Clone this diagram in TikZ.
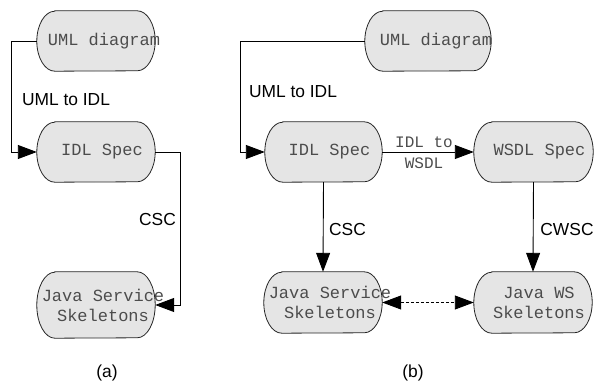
\documentclass[tikz,border=0pt]{standalone}
\usepackage{fontspec}
\setmainfont{Liberation Sans}
\newfontfamily\codefont{Liberation Mono}
\usetikzlibrary{arrows.meta,backgrounds}

% Capsule outline around a named box: #1 = node name, #2 = half height
\newcommand\capsule[2]{%
  \draw[capsuleline]
    ([xshift=18pt]#1.north west) -- ([xshift=-18pt]#1.north east)
    arc[start angle=90,end angle=-90,x radius=18pt,y radius=#2pt]
    -- ([xshift=18pt]#1.south west)
    arc[start angle=270,end angle=90,x radius=18pt,y radius=#2pt]
    -- cycle;}

\begin{document}
\begin{tikzpicture}[x=1pt,y=1pt,
  box/.style={inner sep=0pt,minimum height=60pt,minimum width=118pt},
  boxtext/.style={font=\codefont\fontsize{17}{20}\selectfont,text=black!70,align=center,inner sep=0pt},
  edgetext/.style={font=\codefont\fontsize{16}{21}\selectfont,text=black!70,align=center,inner sep=0pt},
  lbl/.style={font=\fontsize{17.4}{20}\selectfont,inner sep=0pt},
  capsuleline/.style={draw=black!85,line width=0.8pt,fill=gray!20},
  tip/.tip={Triangle[length=19pt,width=14pt]},
  conn/.style={draw=black,line width=0.9pt,-tip},
  both/.style={draw=black,line width=0.9pt,tip-tip,dash pattern=on 3pt off 2pt}]
\useasboundingbox (0,0) rectangle (595,385);

% ---------- (a) ----------
\node[box] (u1) at (96,344) {};
\node[box] (i1) at (96,233) {};
\node[box,minimum height=66pt] (j1) at (96,80) {};
\node[boxtext] at ([xshift=8pt]u1.center) {UML diagram};
\node[boxtext] at ([xshift=6pt]i1.center) {IDL Spec};
\node[boxtext] at ([xshift=7pt]j1.center) {Java Service\\Skeletons};

\draw[conn] (u1.west) -- ++(-25,0) |- (i1.west);
\draw[conn] (i1.east) -- ++(25,0) |- (j1.east);
\node[lbl] at (66,285) {UML to IDL};
\node[lbl] at (157.5,165) {CSC};
\node[lbl] at (107,12) {(a)};

% ---------- (b) ----------
\node[box,minimum width=126pt] (u2) at (428,344) {};
\node[box,minimum width=117pt] (i2) at (323.5,233) {};
\node[box,minimum width=119pt] (w2) at (533.5,233) {};
\node[box,minimum height=61pt] (j2) at (323,82.5) {};
\node[box,minimum height=61pt] (k2) at (533,82.5) {};
\node[boxtext] at ([xshift=8pt]u2.center) {UML diagram};
\node[boxtext] at ([xshift=6pt]i2.center) {IDL Spec};
\node[boxtext] at ([xshift=6pt]w2.center) {WSDL Spec};
\node[boxtext] at ([xshift=7pt]j2.center) {Java Service\\Skeletons};
\node[boxtext] at ([xshift=6pt]k2.center) {Java WS\\Skeletons};

\draw[conn] (u2.west) -- ++(-124,0) |- (i2.west);
\draw[conn] (i2.east) -- (w2.west);
\draw[conn] (i2.south) -- (j2.north);
\draw[conn] (w2.south) -- (k2.north);
\draw[both] (j2.east) -- (k2.west);
\node[edgetext] at (424,232) {IDL to\\WSDL};
\node[lbl] at (293,293) {UML to IDL};
\node[lbl] at (347.5,155) {CSC};
\node[lbl] at (567,155) {CWSC};
\node[lbl] at (413,12) {(b)};

% capsule outlines behind the texts
\begin{scope}[on background layer]
  \capsule{u1}{30} \capsule{i1}{30} \capsule{j1}{33}
  \capsule{u2}{30} \capsule{i2}{30} \capsule{w2}{30}
  \capsule{j2}{30.5} \capsule{k2}{30.5}
\end{scope}
\end{tikzpicture}
\end{document}
